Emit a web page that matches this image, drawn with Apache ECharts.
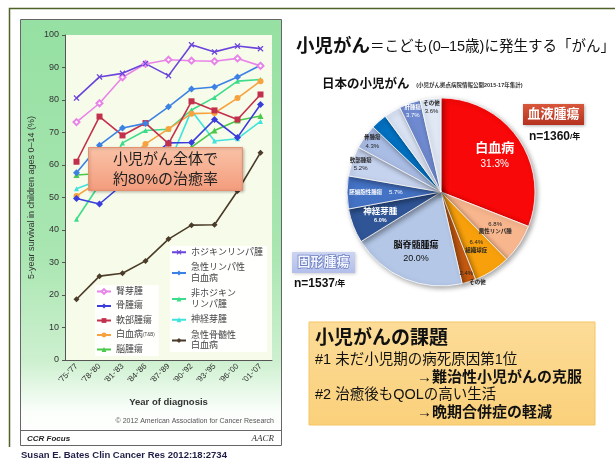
<!DOCTYPE html>
<html>
<head>
<meta charset="utf-8">
<script src="https://cdn.jsdelivr.net/npm/echarts@6/dist/echarts.min.js"></script>
<style>
html, body { margin: 0; padding: 0; background: #fff; }
#main { width: 615px; height: 459px; }
</style>
</head>
<body>
<div id="main"></div>
<script>
// 5-year survival, children 0-14 (%)
var years = ["'75-'77", "'78-'80", "'81-'83", "'84-'86", "'87-'89", "'90-'92", "'93-'95", "'96-'00", "'01-'07"];
var hodgkin = [80.6, 87.1, 88.2, 91.2, 87.5, 97.0, 94.8, 96.6, 95.8];
var allLeuk = [57.6, 66.1, 71.4, 72.8, 77.9, 83.4, 84.0, 87.1, 90.7];
var nhl = [43.3, 54.0, 66.8, 70.6, 71.0, 76.9, 80.8, 85.8, 86.3];
var neuro = [52.7, 55.4, 57.0, 55.0, 60.0, 76.8, 67.4, 68.1, 73.4];
var aml = [18.7, 25.8, 26.7, 30.5, 37.2, 41.5, 41.6, 52.0, 63.8];
var wilms = [73.2, 79.0, 87.0, 91.1, 92.4, 92.1, 91.9, 92.8, 90.5];
var bone = [49.7, 48.0, 54.0, 61.0, 66.8, 66.9, 74.0, 68.5, 78.6];
var softTissue = [61.0, 74.9, 69.1, 72.9, 66.6, 79.6, 76.8, 74.0, 81.7];
var leukemia = [50.5, 55.0, 60.0, 66.5, 71.1, 75.8, 76.0, 80.6, 85.8];
var brain = [56.9, 57.4, 58.0, 60.0, 62.5, 65.5, 70.6, 73.7, 75.1];

// 日本の小児がん (%)
var pieNames = ['白血病', '悪性リンパ腫', '組織球症', 'その他', '脳脊髄腫瘍', '神経芽腫', '胚細胞性腫瘍', '軟部腫瘍', '骨腫瘍', '腎腫瘍', '網膜芽腫', '肝腫瘍', 'その他'];
var pieValues = [31.3, 6.8, 6.4, 2.4, 20.0, 6.0, 5.7, 5.2, 4.3, 2.8, 2.9, 3.7, 3.6];
var pieColors = ['#f80808', '#f7b68e', '#f8a00c', '#c55a11', '#b4c7e7', '#2f5597', '#4472c4', '#c6d3ee', '#a9bce4', '#0070c0', '#d9e2f3', '#6f8ad0', '#e0e8f5'];
var pieTextColors = ['#fff', '#222', '#222', '#222', '#111', '#fff', '#fff', '#222', '#222', '#fff', '#222', '#fff', '#222'];

var legendLabel = {
    '急性リンパ性白血病': '急性リンパ性\n白血病',
    '非ホジキンリンパ腫': '非ホジキン\nリンパ腫',
    '急性骨髄性白血病': '急性骨髄性\n白血病',
    '白血病': '白血病{s|(T&B)}'
};

var JP = '"Liberation Sans", "Noto Sans CJK JP", sans-serif';
var PIE_C = [441, 192];
var PIE_R = 94;

function lineSeries(name, data, color, symbol, size) {
    return {
        type: 'line',
        name: name,
        data: data,
        symbol: symbol,
        symbolSize: size || 5,
        lineStyle: { width: 1.6, color: color },
        itemStyle: { color: color },
        emphasis: { disabled: true },
        z: 3
    };
}

var xSymbol = 'path://M0 1.5L1.5 0L5 3.5L8.5 0L10 1.5L6.5 5L10 8.5L8.5 10L5 6.5L1.5 10L0 8.5L3.5 5Z';

function pieLabelText(p) {
    var v = p.value.toFixed(1) + '%';
    var i = p.dataIndex;
    if (p.value >= 30) return '{n1|' + p.name + '}\n{p1|' + v + '}';
    if (p.value >= 20) return '{n2|' + p.name + '}\n{p2|' + v + '}';
    if (i === 5) return '{n3|' + p.name + '}\n{s|' + v + '}';
    if (i === 6) return '{s|' + p.name + '}  {sp|' + v + '}';
    if (i === 1 || i === 2) return '{sp|' + v + '}\n{s|' + p.name + '}';
    if (i === 3) return '{sp|' + v + '}';
    return '{s|' + p.name + '}\n{sp|' + v + '}';
}

function labelPie(r0, pick) {
    return {
        type: 'pie',
        center: PIE_C,
        radius: [r0, PIE_R],
        startAngle: 90,
        clockwise: true,
        silent: true,
        avoidLabelOverlap: false,
        z: 6,
        itemStyle: { color: 'rgba(0,0,0,0)', borderWidth: 0 },
        labelLine: { show: false },
        emphasis: { disabled: true },
        label: {
            position: 'inside',
            formatter: pieLabelText,
            lineHeight: 9,
            rich: {
                n1: { fontSize: 13, fontWeight: 'bold', lineHeight: 17 },
                p1: { fontSize: 10, lineHeight: 13 },
                n2: { fontSize: 9, fontWeight: 'bold', lineHeight: 13 },
                p2: { fontSize: 9, lineHeight: 12 },
                n3: { fontSize: 8.5, fontWeight: 'bold', lineHeight: 11 },
                s: { fontSize: 5.5, fontWeight: 'bold', lineHeight: 8 },
                sp: { fontSize: 6, lineHeight: 8 }
            }
        },
        data: pieNames.map(function (n, i) {
            return {
                name: n,
                value: pieValues[i],
                label: { show: pick(pieValues[i], i), color: pieTextColors[i] }
            };
        })
    };
}

var chart = echarts.init(document.getElementById('main'));

var option = {
    animation: false,
    textStyle: { fontFamily: JP },
    grid: {
        left: 65, top: 35, width: 207, height: 325,
        show: true, backgroundColor: '#f7fbe9', borderWidth: 0
    },
    xAxis: {
        type: 'category',
        data: years,
        name: 'Year of diagnosis',
        nameLocation: 'middle',
        nameGap: 38,
        nameTextStyle: { fontSize: 9.5, fontWeight: 'bold', color: '#333' },
        axisLine: { lineStyle: { color: '#555' } },
        axisTick: { length: 3, lineStyle: { color: '#555' } },
        axisLabel: { rotate: 45, fontSize: 8, color: '#333', margin: 5 }
    },
    yAxis: {
        type: 'value',
        min: 0, max: 100, interval: 10,
        name: '5-year survival in children ages 0–14 (%)',
        nameLocation: 'middle',
        nameGap: 29,
        nameTextStyle: { fontSize: 9, color: '#333' },
        splitLine: { show: false },
        axisLine: { show: true, lineStyle: { color: '#555' } },
        axisTick: { show: true, length: 3, lineStyle: { color: '#555' } },
        axisLabel: { fontSize: 9, color: '#333', margin: 6 }
    },
    legend: [{
        data: ['腎芽腫', '骨腫瘍', '軟部腫瘍', '白血病', '脳腫瘍'],
        orient: 'vertical',
        left: 95, top: 285,
        itemWidth: 14, itemHeight: 6, itemGap: 3.5,
        padding: [1, 4, 1, 1],
        backgroundColor: 'rgba(255,255,255,0.92)',
        selectedMode: false,
        formatter: function (n) { return legendLabel[n] || n; },
        textStyle: { fontSize: 9, color: '#444', lineHeight: 11, rich: { s: { fontSize: 4.5, color: '#444' } } }
    }, {
        data: ['ホジキンリンパ腫', '急性リンパ性白血病', '非ホジキンリンパ腫', '神経芽腫', '急性骨髄性白血病'],
        orient: 'vertical',
        left: 170, top: 246,
        itemWidth: 14, itemHeight: 6, itemGap: 5,
        padding: [1, 4, 1, 1],
        backgroundColor: 'rgba(255,255,255,0.92)',
        selectedMode: false,
        formatter: function (n) { return legendLabel[n] || n; },
        textStyle: { fontSize: 9, color: '#444', lineHeight: 10.5 }
    }],
    series: [
        lineSeries('急性骨髄性白血病', aml, '#4b3b29', 'diamond', 6),
        lineSeries('神経芽腫', neuro, '#3fe3dc', 'triangle', 5),
        lineSeries('非ホジキンリンパ腫', nhl, '#3edc8a', 'triangle', 5),
        lineSeries('脳腫瘍', brain, '#4cc84c', 'triangle', 6),
        lineSeries('白血病', leukemia, '#f6a23e', 'circle', 6),
        lineSeries('骨腫瘍', bone, '#3a3ddc', 'diamond', 7),
        lineSeries('軟部腫瘍', softTissue, '#c2304c', 'rect', 6),
        lineSeries('急性リンパ性白血病', allLeuk, '#3b82e4', 'diamond', 7),
        lineSeries('腎芽腫', wilms, '#e884e8', 'emptyDiamond', 6),
        lineSeries('ホジキンリンパ腫', hodgkin, '#6a44dc', xSymbol, 6),
        {
            type: 'pie',
            center: PIE_C,
            radius: [0, PIE_R],
            startAngle: 90,
            clockwise: true,
            silent: true,
            avoidLabelOverlap: false,
            z: 4,
            itemStyle: {
                borderColor: '#ffffff', borderWidth: 0.8,
                shadowBlur: 5, shadowColor: 'rgba(0,0,0,0.35)', shadowOffsetX: 2, shadowOffsetY: 2
            },
            label: { show: false },
            labelLine: { show: false },
            emphasis: { disabled: true },
            data: pieNames.map(function (n, i) {
                var item = { name: n, value: pieValues[i], itemStyle: { color: pieColors[i] } };
                if (i === 3) {
                    item.label = { show: true, position: 'outside', formatter: '{b}', fontSize: 5.5, fontWeight: 'bold', color: '#222', distanceToLabelLine: 0 };
                    item.labelLine = { show: false, length: 1, length2: 0 };
                }
                return item;
            })
        },
        labelPie(30, function (v) { return v >= 5.5; }),
        labelPie(70, function (v) { return v < 5.5; })
    ],
    graphic: [
        // slide frame
        { type: 'polyline', z: -20, shape: { points: [[9.5, 447], [9.5, 8.5], [615, 8.5]] }, style: { stroke: '#4f6228', lineWidth: 1.5, fill: null } },
        // green figure panel
        {
            type: 'rect', z: -10,
            shape: { x: 20.5, y: 19.5, width: 261, height: 426 },
            style: {
                fill: new echarts.graphic.LinearGradient(0, 0, 0, 1, [
                    { offset: 0, color: '#95e0a2' },
                    { offset: 0.55, color: '#a9e6b1' },
                    { offset: 0.8, color: '#cdf0cf' },
                    { offset: 0.92, color: '#fbfefb' },
                    { offset: 1, color: '#ffffff' }
                ]),
                stroke: '#666', lineWidth: 1
            }
        },
        { type: 'rect', z: -9, shape: { x: 21, y: 431, width: 260, height: 14 }, style: { fill: '#ffffff' } },
        { type: 'line', z: -9, shape: { x1: 20.5, y1: 430.5, x2: 281.5, y2: 430.5 }, style: { stroke: '#666', lineWidth: 1 } },
        { type: 'text', z: 10, x: 27, y: 438.5, style: { text: 'CCR Focus', fontSize: 8, fontWeight: 'bold', fontStyle: 'italic', fill: '#222', verticalAlign: 'middle', fontFamily: JP } },
        { type: 'text', z: 10, x: 274, y: 438.5, style: { text: 'AACR', fontSize: 9, fontStyle: 'italic', fill: '#333', align: 'right', verticalAlign: 'middle', fontFamily: '"Liberation Serif", serif' } },
        { type: 'text', z: 10, x: 274, y: 421, style: { text: '© 2012 American Association for Cancer Research', fontSize: 7, fill: '#555', align: 'right', verticalAlign: 'middle', fontFamily: JP } },
        { type: 'text', z: 10, x: 21, y: 455, style: { text: 'Susan E. Bates Clin Cancer Res 2012:18:2734', fontSize: 9.5, fontWeight: 'bold', fill: '#1e1e46', verticalAlign: 'middle', fontFamily: JP } },
        // annotation box on the line chart
        {
            type: 'rect', z: 100,
            shape: { x: 88.5, y: 147.5, width: 154, height: 43 },
            style: {
                fill: new echarts.graphic.LinearGradient(0, 0, 0, 1, [
                    { offset: 0, color: '#fac3a8' },
                    { offset: 1, color: '#f39c7c' }
                ]),
                stroke: '#e5906e', lineWidth: 1,
                shadowBlur: 3, shadowColor: 'rgba(0,0,0,0.25)', shadowOffsetX: 1, shadowOffsetY: 1
            }
        },
        { type: 'text', z: 101, x: 165.5, y: 169.5, style: { text: '小児がん全体で\n約80%の治癒率', fontSize: 15, lineHeight: 20, fill: '#222', align: 'center', verticalAlign: 'middle', fontFamily: JP } },
        // right-side headings
        {
            type: 'text', z: 10, x: 296, y: 47,
            style: {
                text: '{a|小児がん}{b|＝こども(0–15歳)に発生する「がん」}',
                verticalAlign: 'middle', fontFamily: JP,
                rich: {
                    a: { fontSize: 18.5, fontWeight: 'bold', fill: '#111', fontFamily: JP },
                    b: { fontSize: 14.5, fill: '#111', fontFamily: JP }
                }
            }
        },
        {
            type: 'text', z: 10, x: 322, y: 85,
            style: {
                text: '{a|日本の小児がん}  {b|(小児がん拠点病院情報公開2015-17年集計)}',
                verticalAlign: 'middle', fontFamily: JP,
                rich: {
                    a: { fontSize: 12.5, fontWeight: 'bold', fill: '#111', fontFamily: JP },
                    b: { fontSize: 5.5, fontWeight: 'bold', fill: '#333', fontFamily: JP }
                }
            }
        },
        {
            type: 'rect', z: 10,
            shape: { x: 523, y: 104, width: 61, height: 21 },
            style: {
                fill: new echarts.graphic.LinearGradient(0, 0, 0, 1, [
                    { offset: 0, color: '#d9583c' },
                    { offset: 1, color: '#b4321f' }
                ]),
                shadowBlur: 3, shadowColor: 'rgba(0,0,0,0.3)', shadowOffsetX: 1, shadowOffsetY: 1
            }
        },
        { type: 'text', z: 11, x: 553.5, y: 114.5, style: { text: '血液腫瘍', fontSize: 13, fontWeight: 'bold', fill: '#fff', align: 'center', verticalAlign: 'middle', fontFamily: JP } },
        {
            type: 'text', z: 11, x: 529, y: 137,
            style: {
                text: '{a|n=1360}{b|/年}', verticalAlign: 'middle', fontFamily: JP,
                rich: { a: { fontSize: 12, fontWeight: 'bold', fill: '#111', fontFamily: JP }, b: { fontSize: 8, fontWeight: 'bold', fill: '#111', fontFamily: JP } }
            }
        },
        {
            type: 'rect', z: 10,
            shape: { x: 292, y: 252, width: 63, height: 21 },
            style: {
                fill: new echarts.graphic.LinearGradient(0, 0, 0, 1, [
                    { offset: 0, color: '#ccd4f2' },
                    { offset: 1, color: '#b3bfea' }
                ]),
                shadowBlur: 3, shadowColor: 'rgba(0,0,0,0.2)', shadowOffsetX: 1, shadowOffsetY: 1
            }
        },
        { type: 'text', z: 11, x: 323.5, y: 262.5, style: { text: '固形腫瘍', fontSize: 13, fontWeight: 'bold', fill: '#f4f6ff', stroke: '#6e80c2', lineWidth: 1.5, align: 'center', verticalAlign: 'middle', fontFamily: JP } },
        {
            type: 'text', z: 11, x: 294, y: 284,
            style: {
                text: '{a|n=1537}{b|/年}', verticalAlign: 'middle', fontFamily: JP,
                rich: { a: { fontSize: 12, fontWeight: 'bold', fill: '#111', fontFamily: JP }, b: { fontSize: 8, fontWeight: 'bold', fill: '#111', fontFamily: JP } }
            }
        },
        // issues box
        {
            type: 'rect', z: 10,
            shape: { x: 309, y: 322, width: 286, height: 103 },
            style: {
                fill: new echarts.graphic.LinearGradient(0, 0, 0, 1, [
                    { offset: 0, color: '#fcdc98' },
                    { offset: 1, color: '#fad07a' }
                ]),
                stroke: '#f4c564', lineWidth: 1
            }
        },
        { type: 'text', z: 11, x: 315, y: 338.5, style: { text: '小児がんの課題', fontSize: 19, fontWeight: 'bold', fill: '#111', verticalAlign: 'middle', fontFamily: JP } },
        { type: 'text', z: 11, x: 315, y: 360, style: { text: '#1 未だ小児期の病死原因第1位', fontSize: 14.5, fill: '#111', verticalAlign: 'middle', fontFamily: JP } },
        { type: 'text', z: 11, x: 417, y: 378, style: { text: '→難治性小児がんの克服', fontSize: 15, fontWeight: 'bold', fill: '#111', verticalAlign: 'middle', fontFamily: JP } },
        { type: 'text', z: 11, x: 315, y: 395, style: { text: '#2 治癒後もQOLの高い生活', fontSize: 14.5, fill: '#111', verticalAlign: 'middle', fontFamily: JP } },
        { type: 'text', z: 11, x: 417, y: 412.5, style: { text: '→晩期合併症の軽減', fontSize: 15, fontWeight: 'bold', fill: '#111', verticalAlign: 'middle', fontFamily: JP } }
    ]
};

chart.setOption(option);
</script>
</body>
</html>
